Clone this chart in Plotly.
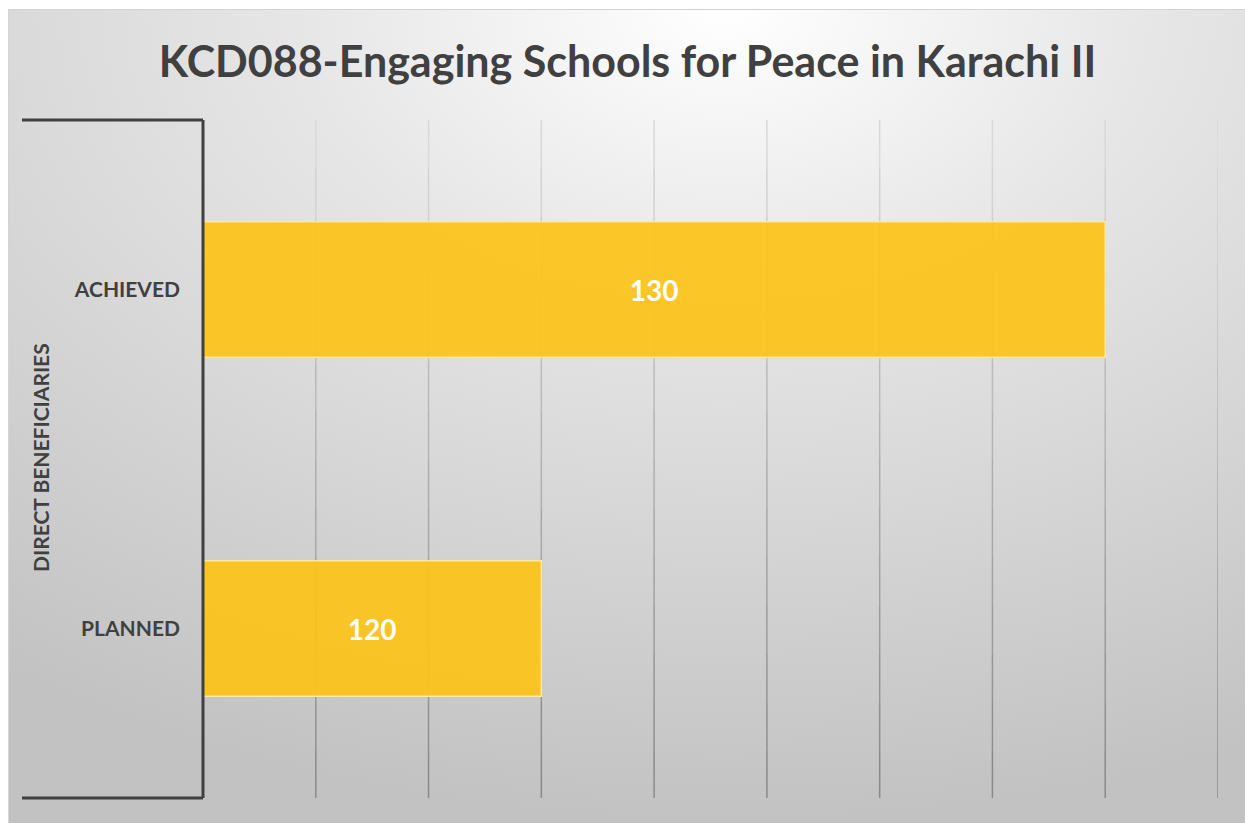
import plotly.graph_objects as go
import base64

# ---- data ----
title_text = "KCD088-Engaging Schools for Peace in Karachi II"
group_label = "DIRECT BENEFICIARIES"
categories = ["PLANNED", "ACHIEVED"]
values = [120, 130]
axis_min, axis_max, axis_step = 114, 132, 2

W, H = 1245, 823
ML, MR, MT, MB = 203, 27, 120, 25
PW, PH = W - ML - MR, H - MT - MB

def px2paper_x(px):
    return (px - ML) / PW

def px2paper_y(py):
    return (H - MB - py) / PH

FONT = "Lato"
DARK = "#404040"

# gradient background as svg data uri
svg = (
    '<svg xmlns="http://www.w3.org/2000/svg" width="1237" height="814" preserveAspectRatio="none">'
    '<defs><radialGradient id="g" cx="0.58" cy="0.0" r="1.0" fx="0.58" fy="0.0">'
    '<stop offset="0" stop-color="#ffffff"/>'
    '<stop offset="0.35" stop-color="#e6e6e6"/>'
    '<stop offset="1" stop-color="#c2c2c2"/>'
    '</radialGradient></defs>'
    '<rect x="0" y="0" width="1237" height="814" fill="url(#g)"/></svg>'
)
bg_uri = "data:image/svg+xml;base64," + base64.b64encode(svg.encode()).decode()

fig = go.Figure()
fig.add_trace(go.Bar(
    y=categories,
    x=[v - axis_min for v in values],
    base=axis_min,
    orientation="h",
    text=[str(v) for v in values],
    textposition="inside",
    insidetextanchor="middle",
    textfont=dict(family=FONT, size=28, color="white", weight="bold"),
    marker=dict(color="rgba(251,195,25,0.93)",
                line=dict(color="rgba(255,232,160,1)", width=1.5)),
    showlegend=False,
))

shapes = []
# gridlines with vertical gradient (segments)
nseg = 14
c_top = (220, 220, 220)
c_bot = (135, 135, 135)
for t in range(axis_min + axis_step, axis_max + 1, axis_step):
    for i in range(nseg):
        f = (i + 0.5) / nseg
        c = tuple(int(c_top[k] + (c_bot[k] - c_top[k]) * f) for k in range(3))
        shapes.append(dict(type="line", xref="x", yref="paper",
                           x0=t, x1=t, y0=1 - i / nseg, y1=1 - (i + 1) / nseg,
                           line=dict(color="rgb(%d,%d,%d)" % c, width=1.5),
                           layer="below"))
# bracket of the category axis
bx = px2paper_x(22)
for yy in (0, 1):
    shapes.append(dict(type="line", xref="paper", yref="paper",
                       x0=bx, x1=0, y0=yy, y1=yy,
                       line=dict(color=DARK, width=3)))
shapes.append(dict(type="line", xref="paper", yref="paper",
                   x0=0, x1=0, y0=0, y1=1, line=dict(color=DARK, width=3)))
# chart-area border
shapes.append(dict(type="rect", xref="paper", yref="paper",
                   x0=px2paper_x(8.5), x1=px2paper_x(1250), y0=px2paper_y(830), y1=px2paper_y(9.5),
                   line=dict(color="#d4d4d4", width=1), layer="below"))

fig.update_layout(
    width=W, height=H,
    margin=dict(l=ML, r=MR, t=MT, b=MB),
    paper_bgcolor="white",
    plot_bgcolor="rgba(0,0,0,0)",
    bargap=0.6,
    title=dict(text=title_text, x=627.5 / W, xref="container", xanchor="center",
               y=1 - 62 / H, yref="container", yanchor="middle",
               font=dict(family=FONT, size=43, color=DARK, weight="bold")),
    xaxis=dict(range=[axis_min, axis_max], tick0=axis_min, dtick=axis_step,
               showgrid=False, zeroline=False, showticklabels=False, showline=False),
    yaxis=dict(categoryorder="array", categoryarray=categories,
               showgrid=False, zeroline=False, showline=False,
               ticks="", ticklabelstandoff=22,
               tickfont=dict(family=FONT, size=21, color=DARK, weight="bold")),
    shapes=shapes,
    images=[dict(source=bg_uri, xref="paper", yref="paper",
                 x=px2paper_x(8), y=px2paper_y(9),
                 sizex=(W - 8) / PW, sizey=(H - 9) / PH,
                 xanchor="left", yanchor="top", sizing="stretch", layer="below")],
    annotations=[dict(text=group_label, xref="paper", yref="paper",
                      x=px2paper_x(40), y=px2paper_y(458), textangle=-90,
                      showarrow=False, xanchor="center", yanchor="middle",
                      font=dict(family=FONT, size=21, color=DARK, weight="bold"))],
)

fig.write_html("out.html")
